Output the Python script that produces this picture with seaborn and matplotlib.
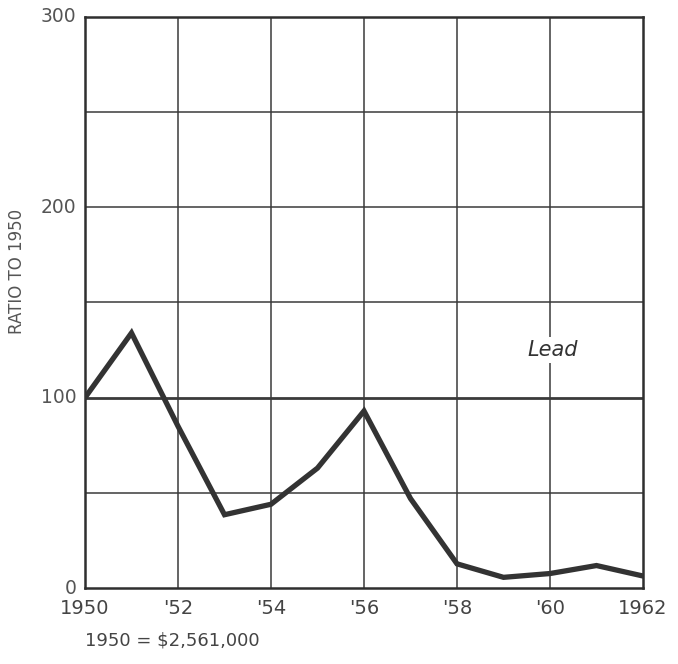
import matplotlib
matplotlib.use("Agg")
import matplotlib.pyplot as plt
import seaborn as sns
import pandas as pd

years = [1950, 1951, 1952, 1953, 1954, 1955, 1956, 1957, 1958, 1959, 1960, 1961, 1962]
ratio = [100, 134, 85, 38.5, 44, 63, 93, 47, 12.7, 5.6, 7.6, 11.8, 6.3]
xtick_vals = [1950, 1952, 1954, 1956, 1958, 1960, 1962]
xtick_labels = ["1950", "'52", "'54", "'56", "'58", "'60", "1962"]
ytick_vals = [0, 50, 100, 150, 200, 250, 300]
ytick_labels = ["0", "", "100", "", "200", "", "300"]
series_name = "Lead"
base_note = "1950 = $2,561,000"
ylabel = "RATIO TO 1950"

sns.set_style("white")
plt.rcParams['font.family'] = ['DejaVu Sans']

df = pd.DataFrame({"year": years, "ratio": ratio})

fig = plt.figure(figsize=(6.78, 6.64), dpi=100)
ax = fig.add_axes([85/678, 76/664, 558/678, 571/664])

grid_col = "#3a3a3a"
for xv in xtick_vals[1:-1]:
    ax.axvline(xv, color=grid_col, lw=1.1, zorder=1)
for yv in ytick_vals[1:-1]:
    ax.axhline(yv, color=grid_col, lw=2.0 if yv == 100 else 1.1, zorder=1)

sns.lineplot(data=df, x="year", y="ratio", ax=ax, color="#333333", lw=3.8,
             zorder=3, solid_joinstyle="miter")

ax.set_xlim(1950, 1962)
ax.set_ylim(0, 300)
ax.set_xticks(xtick_vals)
ax.set_xticklabels(xtick_labels, fontsize=14, color="#444444")
ax.set_yticks(ytick_vals)
ax.set_yticklabels(ytick_labels, fontsize=13.5, color="#555555")
ax.tick_params(axis="both", length=0)
ax.tick_params(axis="x", pad=8)
ax.tick_params(axis="y", pad=6)
for lab in ax.get_yticklabels():
    lab.set_verticalalignment("center")
ax.set_xlabel("")
ax.set_ylabel(ylabel, fontsize=12, color="#555555", labelpad=10)
ax.yaxis.set_label_coords(-0.105, 0.555)

for s in ax.spines.values():
    s.set_visible(True)
    s.set_color("#2f2f2f")
    s.set_linewidth(1.8)

ax.text(1960.05, 125, series_name, fontsize=15, style="italic", color="#333333",
        ha="center", va="center", zorder=4,
        bbox=dict(facecolor="white", edgecolor="none", pad=2))

fig.text(85/678, 1 - 640/664, base_note, fontsize=13, color="#444444",
         ha="left", va="center")

fig.savefig("out.png", dpi=100, facecolor="white")
